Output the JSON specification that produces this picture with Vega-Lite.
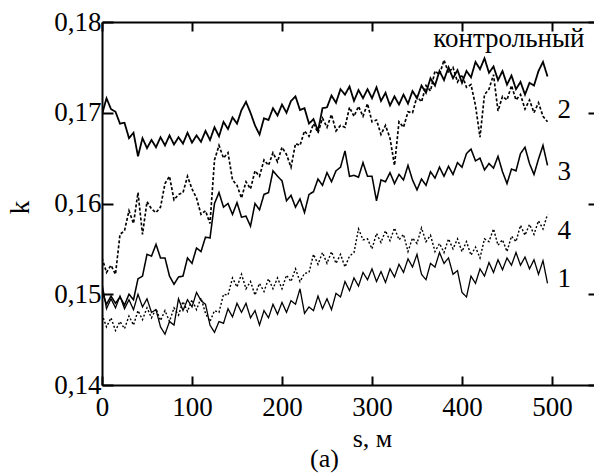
{
"$schema":"https://vega.github.io/schema/vega-lite/v6.json",
"autosize":{"type":"none"},
"padding":{"left":102,"top":22,"right":0,"bottom":88},
"width":495,"height":363,
"config":{"font":"Liberation Serif, Times New Roman, serif","view":{"stroke":null}},
"title":{"text":"(a)","orient":"bottom","anchor":"middle","frame":"group","dx":-25,"dy":-9,"fontSize":26,"font":"Liberation Serif, Times New Roman, serif","fontWeight":"normal","color":"black"},
"resolve":{"axis":{"x":"independent","y":"independent"}},
"layer":[
{"data":{"values":[
{"s":0,"c":0.1698,"s2":0.1540,"s3":0.1503,"s4":0.1478,"s1":0.1512},
{"s":5,"c":0.1716,"s2":0.1524,"s3":0.1489,"s4":0.1464,"s1":0.1484},
{"s":10,"c":0.1704,"s2":0.1532,"s3":0.1498,"s4":0.1474,"s1":0.1495},
{"s":15,"c":0.1701,"s2":0.1522,"s3":0.1490,"s4":0.1460,"s1":0.1485},
{"s":20,"c":0.1688,"s2":0.1566,"s3":0.1497,"s4":0.1470,"s1":0.1498},
{"s":25,"c":0.1689,"s2":0.1570,"s3":0.1488,"s4":0.1462,"s1":0.1484},
{"s":30,"c":0.1672,"s2":0.1592,"s3":0.1500,"s4":0.1476,"s1":0.1494},
{"s":35,"c":0.1678,"s2":0.1578,"s3":0.1494,"s4":0.1466,"s1":0.1483},
{"s":40,"c":0.1652,"s2":0.1612,"s3":0.1517,"s4":0.1482,"s1":0.1500},
{"s":45,"c":0.1672,"s2":0.1566,"s3":0.1520,"s4":0.1472,"s1":0.1486},
{"s":50,"c":0.1661,"s2":0.1602,"s3":0.1544,"s4":0.1485,"s1":0.1495},
{"s":55,"c":0.1670,"s2":0.1594,"s3":0.1542,"s4":0.1474,"s1":0.1480},
{"s":60,"c":0.1662,"s2":0.1590,"s3":0.1555,"s4":0.1484,"s1":0.1483},
{"s":65,"c":0.1673,"s2":0.1596,"s3":0.1540,"s4":0.1471,"s1":0.1464},
{"s":70,"c":0.1664,"s2":0.1622,"s3":0.1540,"s4":0.1482,"s1":0.1456},
{"s":75,"c":0.1675,"s2":0.1630,"s3":0.1520,"s4":0.1470,"s1":0.1470},
{"s":80,"c":0.1665,"s2":0.1604,"s3":0.1511,"s4":0.1485,"s1":0.1466},
{"s":85,"c":0.1673,"s2":0.1610,"s3":0.1519,"s4":0.1477,"s1":0.1495},
{"s":90,"c":0.1666,"s2":0.1612,"s3":0.1520,"s4":0.1492,"s1":0.1482},
{"s":95,"c":0.1678,"s2":0.1630,"s3":0.1540,"s4":0.1481,"s1":0.1494},
{"s":100,"c":0.1667,"s2":0.1616,"s3":0.1534,"s4":0.1494,"s1":0.1486},
{"s":105,"c":0.1675,"s2":0.1606,"s3":0.1551,"s4":0.1483,"s1":0.1502},
{"s":110,"c":0.1668,"s2":0.1588,"s3":0.1547,"s4":0.1496,"s1":0.1493},
{"s":115,"c":0.1680,"s2":0.1592,"s3":0.1563,"s4":0.1479,"s1":0.1489},
{"s":120,"c":0.1670,"s2":0.1578,"s3":0.1562,"s4":0.1470,"s1":0.1466},
{"s":125,"c":0.1684,"s2":0.1648,"s3":0.1600,"s4":0.1482,"s1":0.1458},
{"s":130,"c":0.1674,"s2":0.1664,"s3":0.1612,"s4":0.1480,"s1":0.1470},
{"s":135,"c":0.1690,"s2":0.1650,"s3":0.1596,"s4":0.1500,"s1":0.1468},
{"s":140,"c":0.1682,"s2":0.1656,"s3":0.1600,"s4":0.1499,"s1":0.1484},
{"s":145,"c":0.1695,"s2":0.1626,"s3":0.1588,"s4":0.1518,"s1":0.1475},
{"s":150,"c":0.1688,"s2":0.1620,"s3":0.1601,"s4":0.1508,"s1":0.1490},
{"s":155,"c":0.1703,"s2":0.1606,"s3":0.1585,"s4":0.1522,"s1":0.1480},
{"s":160,"c":0.1712,"s2":0.1624,"s3":0.1586,"s4":0.1506,"s1":0.1490},
{"s":165,"c":0.1700,"s2":0.1616,"s3":0.1575,"s4":0.1514,"s1":0.1474},
{"s":170,"c":0.1686,"s2":0.1636,"s3":0.1600,"s4":0.1499,"s1":0.1482},
{"s":175,"c":0.1676,"s2":0.1630,"s3":0.1593,"s4":0.1512,"s1":0.1466},
{"s":180,"c":0.1694,"s2":0.1648,"s3":0.1610,"s4":0.1503,"s1":0.1482},
{"s":185,"c":0.1692,"s2":0.1642,"s3":0.1612,"s4":0.1517,"s1":0.1474},
{"s":190,"c":0.1705,"s2":0.1656,"s3":0.1636,"s4":0.1506,"s1":0.1489},
{"s":195,"c":0.1697,"s2":0.1646,"s3":0.1630,"s4":0.1518,"s1":0.1478},
{"s":200,"c":0.1709,"s2":0.1662,"s3":0.1625,"s4":0.1506,"s1":0.1491},
{"s":205,"c":0.1700,"s2":0.1654,"s3":0.1603,"s4":0.1521,"s1":0.1480},
{"s":210,"c":0.1713,"s2":0.1640,"s3":0.1609,"s4":0.1514,"s1":0.1493},
{"s":215,"c":0.1718,"s2":0.1666,"s3":0.1596,"s4":0.1528,"s1":0.1489},
{"s":220,"c":0.1703,"s2":0.1664,"s3":0.1605,"s4":0.1514,"s1":0.1506},
{"s":225,"c":0.1705,"s2":0.1680,"s3":0.1590,"s4":0.1523,"s1":0.1479},
{"s":230,"c":0.1688,"s2":0.1674,"s3":0.1610,"s4":0.1524,"s1":0.1486},
{"s":235,"c":0.1693,"s2":0.1688,"s3":0.1613,"s4":0.1544,"s1":0.1482},
{"s":240,"c":0.1680,"s2":0.1678,"s3":0.1627,"s4":0.1533,"s1":0.1498},
{"s":245,"c":0.1705,"s2":0.1694,"s3":0.1620,"s4":0.1546,"s1":0.1484},
{"s":250,"c":0.1706,"s2":0.1684,"s3":0.1634,"s4":0.1534,"s1":0.1495},
{"s":255,"c":0.1719,"s2":0.1698,"s3":0.1624,"s4":0.1547,"s1":0.1483},
{"s":260,"c":0.1711,"s2":0.1680,"s3":0.1636,"s4":0.1534,"s1":0.1501},
{"s":265,"c":0.1726,"s2":0.1686,"s3":0.1640,"s4":0.1544,"s1":0.1497},
{"s":270,"c":0.1720,"s2":0.1684,"s3":0.1658,"s4":0.1530,"s1":0.1514},
{"s":275,"c":0.1729,"s2":0.1706,"s3":0.1630,"s4":0.1542,"s1":0.1504},
{"s":280,"c":0.1713,"s2":0.1696,"s3":0.1631,"s4":0.1546,"s1":0.1518},
{"s":285,"c":0.1725,"s2":0.1707,"s3":0.1629,"s4":0.1572,"s1":0.1509},
{"s":290,"c":0.1716,"s2":0.1696,"s3":0.1645,"s4":0.1560,"s1":0.1524},
{"s":295,"c":0.1726,"s2":0.1710,"s3":0.1630,"s4":0.1561,"s1":0.1516},
{"s":300,"c":0.1716,"s2":0.1690,"s3":0.1630,"s4":0.1550,"s1":0.1528},
{"s":305,"c":0.1728,"s2":0.1692,"s3":0.1603,"s4":0.1567,"s1":0.1514},
{"s":310,"c":0.1713,"s2":0.1676,"s3":0.1626,"s4":0.1557,"s1":0.1525},
{"s":315,"c":0.1722,"s2":0.1686,"s3":0.1624,"s4":0.1570,"s1":0.1513},
{"s":320,"c":0.1708,"s2":0.1672,"s3":0.1634,"s4":0.1559,"s1":0.1528},
{"s":325,"c":0.1718,"s2":0.1642,"s3":0.1622,"s4":0.1573,"s1":0.1519},
{"s":330,"c":0.1709,"s2":0.1690,"s3":0.1632,"s4":0.1560,"s1":0.1533},
{"s":335,"c":0.1720,"s2":0.1684,"s3":0.1626,"s4":0.1566,"s1":0.1524},
{"s":340,"c":0.1710,"s2":0.1701,"s3":0.1642,"s4":0.1547,"s1":0.1539},
{"s":345,"c":0.1724,"s2":0.1700,"s3":0.1626,"s4":0.1562,"s1":0.1530},
{"s":350,"c":0.1716,"s2":0.1718,"s3":0.1615,"s4":0.1556,"s1":0.1544},
{"s":355,"c":0.1730,"s2":0.1712,"s3":0.1627,"s4":0.1573,"s1":0.1522},
{"s":360,"c":0.1722,"s2":0.1730,"s3":0.1620,"s4":0.1558,"s1":0.1516},
{"s":365,"c":0.1738,"s2":0.1724,"s3":0.1635,"s4":0.1565,"s1":0.1534},
{"s":370,"c":0.1730,"s2":0.1746,"s3":0.1628,"s4":0.1547,"s1":0.1530},
{"s":375,"c":0.1746,"s2":0.1742,"s3":0.1640,"s4":0.1556,"s1":0.1546},
{"s":380,"c":0.1736,"s2":0.1758,"s3":0.1630,"s4":0.1546,"s1":0.1534},
{"s":385,"c":0.1750,"s2":0.1744,"s3":0.1641,"s4":0.1561,"s1":0.1540},
{"s":390,"c":0.1738,"s2":0.1750,"s3":0.1632,"s4":0.1550,"s1":0.1522},
{"s":395,"c":0.1747,"s2":0.1734,"s3":0.1645,"s4":0.1561,"s1":0.1526},
{"s":400,"c":0.1733,"s2":0.1742,"s3":0.1640,"s4":0.1547,"s1":0.1502},
{"s":405,"c":0.1746,"s2":0.1728,"s3":0.1655,"s4":0.1558,"s1":0.1497},
{"s":410,"c":0.1739,"s2":0.1731,"s3":0.1660,"s4":0.1543,"s1":0.1520},
{"s":415,"c":0.1756,"s2":0.1708,"s3":0.1647,"s4":0.1552,"s1":0.1512},
{"s":420,"c":0.1748,"s2":0.1673,"s3":0.1650,"s4":0.1540,"s1":0.1528},
{"s":425,"c":0.1760,"s2":0.1720,"s3":0.1637,"s4":0.1561,"s1":0.1520},
{"s":430,"c":0.1744,"s2":0.1726,"s3":0.1644,"s4":0.1558,"s1":0.1535},
{"s":435,"c":0.1751,"s2":0.1742,"s3":0.1639,"s4":0.1572,"s1":0.1524},
{"s":440,"c":0.1736,"s2":0.1702,"s3":0.1652,"s4":0.1554,"s1":0.1538},
{"s":445,"c":0.1746,"s2":0.1718,"s3":0.1635,"s4":0.1560,"s1":0.1527},
{"s":450,"c":0.1731,"s2":0.1714,"s3":0.1622,"s4":0.1547,"s1":0.1540},
{"s":455,"c":0.1741,"s2":0.1730,"s3":0.1638,"s4":0.1564,"s1":0.1532},
{"s":460,"c":0.1726,"s2":0.1714,"s3":0.1636,"s4":0.1558,"s1":0.1546},
{"s":465,"c":0.1734,"s2":0.1720,"s3":0.1655,"s4":0.1576,"s1":0.1532},
{"s":470,"c":0.1720,"s2":0.1704,"s3":0.1662,"s4":0.1565,"s1":0.1541},
{"s":475,"c":0.1733,"s2":0.1714,"s3":0.1644,"s4":0.1577,"s1":0.1528},
{"s":480,"c":0.1730,"s2":0.1700,"s3":0.1632,"s4":0.1566,"s1":0.1538},
{"s":485,"c":0.1746,"s2":0.1711,"s3":0.1649,"s4":0.1581,"s1":0.1522},
{"s":490,"c":0.1756,"s2":0.1696,"s3":0.1664,"s4":0.1572,"s1":0.1537},
{"s":495,"c":0.1740,"s2":0.1690,"s3":0.1642,"s4":0.1588,"s1":0.1512}
]},
"transform":[{"fold":["c","s2","s3","s4","s1"],"as":["series","k"]}],
"mark":{"type":"line","color":"black","clip":true},
"encoding":{
"x":{"field":"s","type":"quantitative","scale":{"domain":[0,550],"nice":false,"zero":false},
"axis":{"orient":"bottom","values":[0,100,200,300,400,500],"tickSize":-9,"tickWidth":2,"tickColor":"black","domainWidth":2,"domainColor":"black","grid":false,"labelFontSize":27,"labelColor":"black","labelFont":"Liberation Serif, Times New Roman, serif","labelPadding":18,"labelFlush":false,"labelOverlap":false,"title":"s, м","titleFontSize":26,"titleFont":"Liberation Serif, Times New Roman, serif","titleFontWeight":"normal","titleColor":"black","titleX":270,"titleY":61,"titleBaseline":"alphabetic"}},
"y":{"field":"k","type":"quantitative","scale":{"domain":[0.14,0.18],"nice":false,"zero":false},
"axis":{"orient":"left","values":[0.14,0.15,0.16,0.17,0.18],"labelExpr":"replace(format(datum.value,'.2f'),'.',',')","tickSize":-11,"tickWidth":2,"tickColor":"black","domainWidth":2,"domainColor":"black","grid":false,"labelFontSize":27,"labelColor":"black","labelFont":"Liberation Serif, Times New Roman, serif","labelPadding":12,"labelFlush":false,"labelOverlap":false,"title":"k","titleFontSize":27,"titleFont":"Liberation Serif, Times New Roman, serif","titleFontWeight":"normal","titleColor":"black","titleX":-82,"titleY":185,"titleAngle":270,"titleBaseline":"middle"}},
"detail":{"field":"series","type":"nominal"},
"strokeDash":{"field":"series","type":"nominal","scale":{"domain":["c","s2","s3","s4","s1"],"range":[[1,0],[3,2],[1,0],[2,2],[1,0]]},"legend":null},
"strokeWidth":{"field":"series","type":"nominal","scale":{"domain":["c","s2","s3","s4","s1"],"range":[1.8,1.3,1.8,1.3,1.8]},"legend":null}
}},
{"data":{"values":[
{"lx":368,"ly":0.17725,"t":"контрольный"},
{"lx":506,"ly":0.1694,"t":"2"},
{"lx":506,"ly":0.1626,"t":"3"},
{"lx":506,"ly":0.1561,"t":"4"},
{"lx":506,"ly":0.1508,"t":"1"}
]},
"mark":{"type":"text","align":"left","baseline":"alphabetic","fontSize":27,"font":"Liberation Serif, Times New Roman, serif","color":"black"},
"encoding":{
"x":{"field":"lx","type":"quantitative","scale":{"domain":[0,550],"nice":false,"zero":false},
"axis":{"orient":"top","values":[0,100,200,300,400,500],"labels":false,"title":null,"tickSize":-9,"tickWidth":2,"tickColor":"black","domainWidth":2,"domainColor":"black","grid":false}},
"y":{"field":"ly","type":"quantitative","scale":{"domain":[0.14,0.18],"nice":false,"zero":false},
"axis":{"orient":"right","values":[0.14,0.15,0.16,0.17,0.18],"labels":false,"title":null,"tickSize":-9,"tickWidth":2,"tickColor":"black","domainWidth":2,"domainColor":"black","grid":false}},
"text":{"field":"t","type":"nominal"}
}}
]
}
